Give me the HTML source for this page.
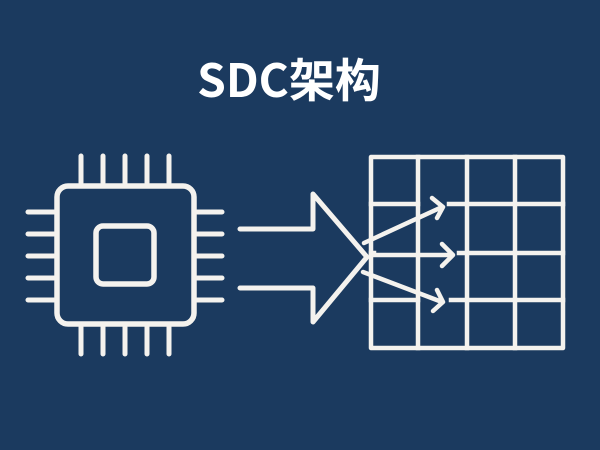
<!DOCTYPE html>
<html><head><meta charset="utf-8"><style>
html,body{margin:0;padding:0;}
body{width:600px;height:450px;background:#1b3a5f;overflow:hidden;position:relative;}
.t{position:absolute;left:0;width:578px;top:48px;text-align:center;color:#fff;font:bold 46px "Noto Sans CJK SC","Liberation Sans",sans-serif;line-height:60px;}
svg{position:absolute;left:0;top:0;}
</style></head><body>
<div class="t">SDC架构</div>
<svg width="600" height="450" viewBox="0 0 600 450" fill="none" stroke="#f4f2ee" stroke-width="5.5" stroke-linecap="round" stroke-linejoin="round">
<rect x="57" y="186" width="137" height="138" rx="11"/>
<rect x="96" y="226" width="58" height="58" rx="7"/>
<g stroke-width="5">
<path d="M81 156V183M103 156V183M125 156V183M147 156V183M169 156V183"/>
<path d="M81 327V354M103 327V354M125 327V354M147 327V354M169 327V354"/>
<path d="M28 212H54M28 234H54M28 256H54M28 278H54M28 300H54"/>
<path d="M197 212H222M197 234H222M197 256H222M197 278H222M197 300H222"/>
</g>
<path d="M240 229H313V194L367 257L313 322V288H240" stroke-width="5"/>
<g stroke-width="4.5" stroke-linecap="square">
<rect x="371" y="157" width="192" height="191"/>
<path d="M418 157V348M467 157V348M515 157V348"/>
<path d="M371 204H418M449 204H563M371 253H374M459 253H563M371 300H418M451 300H563"/>
</g>
<g stroke-width="4.5">
<path d="M364 243L442 207M432 198L443 207L437 218"/>
<path d="M372 255H452M442 244L453 255L442 266"/>
<path d="M363 272L442 302M437 290L443 302L433 311"/>
</g>
</svg>
</body></html>
